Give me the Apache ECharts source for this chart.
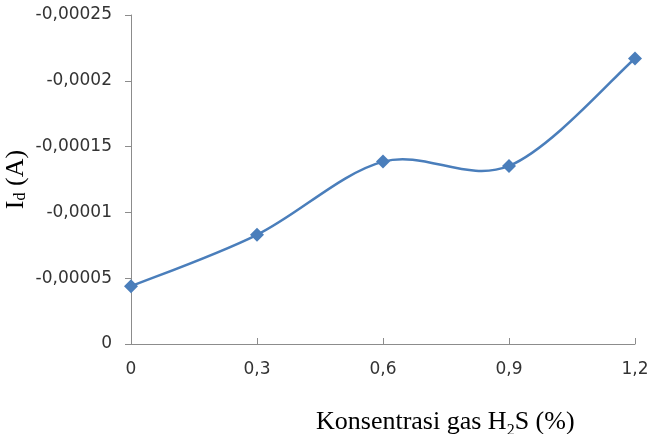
<!DOCTYPE html>
<html>
<head>
<meta charset="utf-8">
<script src="https://cdn.jsdelivr.net/npm/echarts@6/dist/echarts.min.js"></script>
<style>
html,body{margin:0;padding:0;background:#fff;}
#chart{width:648px;height:434px;}
</style>
</head>
<body>
<div id="chart"></div>
<script>
const concentrations = [0, 0.3, 0.6, 0.9, 1.2];
const currents = [-0.0000439, -0.000083, -0.0001386, -0.0001353, -0.000217];
const xTitle = '{a|Konsentrasi gas H}{s|2}{a|S (%)}';
const yTitle = '{a|I}{s|d}{a| (A)}';

const fmt = v => String(parseFloat(Number(v).toFixed(6))).replace('.', ',');
const points = concentrations.map((x, i) => [x, currents[i]]);
const LINE_COLOR = '#4a7ebb';

// Excel-like smoothed line: cubic Bezier segments (Catmull-Rom, tension 1/6)
function renderSegment(params, api) {
  const i = params.dataIndex;
  if (i >= points.length - 1) return null;
  const p = points.map(d => api.coord(d));
  const p0 = p[Math.max(i - 1, 0)], p1 = p[i], p2 = p[i + 1], p3 = p[Math.min(i + 2, p.length - 1)];
  return {
    type: 'bezierCurve',
    shape: {
      x1: p1[0], y1: p1[1], x2: p2[0], y2: p2[1],
      cpx1: p1[0] + (p2[0] - p0[0]) / 6, cpy1: p1[1] + (p2[1] - p0[1]) / 6,
      cpx2: p2[0] - (p3[0] - p1[0]) / 6, cpy2: p2[1] - (p3[1] - p1[1]) / 6
    },
    style: {stroke: LINE_COLOR, lineWidth: 2.5, fill: null}
  };
}

const chart = echarts.init(document.getElementById('chart'), null, {renderer: 'canvas'});
chart.setOption({
  animation: false,
  backgroundColor: '#ffffff',
  title: {
    text: xTitle,
    left: 311,
    top: 400,
    textStyle: {
      rich: {
        a: {fontFamily: 'Liberation Serif', fontSize: 26, fontWeight: 'normal', color: '#000', verticalAlign: 'bottom', lineHeight: 30},
        s: {fontFamily: 'Liberation Serif', fontSize: 16, fontWeight: 'normal', color: '#000', verticalAlign: 'bottom', lineHeight: 24, padding: [0, 0, -4, 0]}
      }
    }
  },
  grid: {left: 131, right: 13, top: 15, bottom: 90, containLabel: false, outerBoundsMode: 'none'},
  xAxis: {
    type: 'value',
    min: 0,
    max: 1.2,
    interval: 0.3,
    axisLine: {show: true, onZero: false, lineStyle: {color: '#8c8c8c', width: 1}},
    axisTick: {show: true, inside: true, length: 6, lineStyle: {color: '#8c8c8c'}},
    splitLine: {show: false},
    axisLabel: {
      formatter: v => fmt(v),
      fontFamily: 'DejaVu Sans',
      fontSize: 17,
      color: '#333',
      margin: 17
    }
  },
  yAxis: {
    type: 'value',
    inverse: true,
    min: -0.00025,
    max: 0,
    interval: 0.00005,
    name: yTitle,
    nameLocation: 'middle',
    nameRotate: 90,
    nameGap: 100,
    nameMoveOverlap: false,
    nameTextStyle: {
      rich: {
        a: {fontFamily: 'Liberation Serif', fontSize: 26, color: '#000', lineHeight: 30},
        s: {fontFamily: 'Liberation Serif', fontSize: 16, color: '#000', lineHeight: 30, padding: [10, 0, 0, 0]}
      }
    },
    axisLine: {show: true, onZero: false, lineStyle: {color: '#8c8c8c', width: 1}},
    axisTick: {show: true, inside: false, length: 6, lineStyle: {color: '#8c8c8c'}},
    splitLine: {show: false},
    axisLabel: {
      formatter: v => fmt(v),
      fontFamily: 'DejaVu Sans',
      fontSize: 17,
      color: '#333',
      margin: 19
    }
  },
  series: [{
    type: 'custom',
    renderItem: renderSegment,
    data: points,
    encode: {x: 0, y: 1},
    z: 2,
    silent: true
  }, {
    type: 'scatter',
    data: points,
    symbol: 'diamond',
    symbolSize: [14, 14],
    itemStyle: {color: LINE_COLOR, opacity: 1},
    z: 3
  }]
});
</script>
</body>
</html>
